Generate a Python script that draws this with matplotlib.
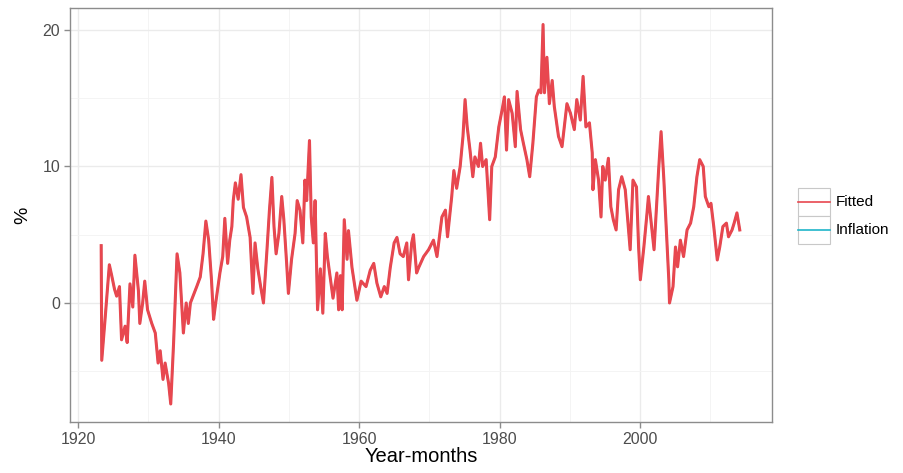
import matplotlib
matplotlib.use("Agg")
import matplotlib.pyplot as plt
from matplotlib.lines import Line2D
from matplotlib.patches import Rectangle

# decimal year of each reading
months = [
    1923.30, 1923.38, 1923.85, 1924.46, 1924.80, 1925.20, 1925.50, 1925.90, 1926.20, 1926.70,
    1927.00, 1927.40, 1927.80, 1928.10, 1928.60, 1928.80, 1929.20, 1929.50, 1929.90, 1930.50,
    1931.00, 1931.40, 1931.70, 1932.10, 1932.40, 1932.90, 1933.20, 1933.60, 1934.10, 1934.50,
    1935.00, 1935.40, 1935.70, 1936.00, 1936.90, 1937.40, 1937.80, 1938.20, 1938.60, 1939.00,
    1939.30, 1939.60, 1940.20, 1940.60, 1940.90, 1941.30, 1941.60, 1941.90, 1942.10, 1942.40,
    1942.80, 1943.20, 1943.55, 1944.00, 1944.50, 1944.90, 1945.20, 1945.60, 1946.00, 1946.40,
    1946.90, 1947.25, 1947.60, 1947.90, 1948.20, 1948.60, 1949.00, 1949.30, 1949.70, 1949.95,
    1950.40, 1950.90, 1951.20, 1951.60, 1952.00, 1952.30, 1952.55, 1952.95, 1953.20, 1953.50,
    1953.75, 1954.10, 1954.50, 1954.85, 1955.20, 1955.50, 1955.90, 1956.30, 1956.85, 1957.10,
    1957.35, 1957.60, 1957.90, 1958.30, 1958.50, 1959.00, 1959.70, 1960.30, 1961.00, 1961.60,
    1962.10, 1962.55, 1963.10, 1963.60, 1964.00, 1964.45, 1965.00, 1965.40, 1965.85, 1966.30,
    1966.80, 1967.05, 1967.50, 1967.75, 1968.20, 1968.50, 1969.20, 1969.90, 1970.60, 1971.10,
    1971.80, 1972.30, 1972.60, 1973.20, 1973.50, 1973.90, 1974.40, 1974.80, 1975.10, 1975.40,
    1975.80, 1976.20, 1976.50, 1977.00, 1977.30, 1977.60, 1978.10, 1978.60, 1978.90, 1979.40,
    1979.90, 1980.35, 1980.70, 1981.00, 1981.30, 1981.80, 1982.25, 1982.50, 1983.00, 1983.40,
    1983.90, 1984.30, 1984.75, 1985.25, 1985.60, 1985.90, 1986.20, 1986.40, 1986.75, 1987.10,
    1987.50, 1987.80, 1988.40, 1988.90, 1989.60, 1990.10, 1990.65, 1991.00, 1991.50, 1991.90,
    1992.30, 1992.80, 1993.20, 1993.30, 1993.65, 1994.10, 1994.45, 1994.70, 1995.05, 1995.50,
    1995.85, 1996.20, 1996.60, 1996.95, 1997.40, 1997.90, 1998.40, 1998.60, 1999.00, 1999.50,
    1999.80, 2000.05, 2000.55, 2001.00, 2001.20, 2001.55, 2002.00, 2002.30, 2002.65, 2003.00,
    2003.40, 2003.75, 2004.10, 2004.20, 2004.70, 2005.05, 2005.35, 2005.75, 2006.20, 2006.70,
    2007.20, 2007.65, 2008.10, 2008.50, 2009.00, 2009.30, 2009.80, 2010.10, 2010.50, 2011.00,
    2011.35, 2011.80, 2012.30, 2012.60, 2013.10, 2013.40, 2013.80, 2014.20,
]

inflation = [
    4.2, -4.2, -1.2, 2.8, 2.0, 1.0, 0.5, 1.2, -2.7, -1.7,
    -2.9, 1.4, -0.3, 3.5, 0.9, -1.5, 0.0, 1.6, -0.5, -1.5,
    -2.2, -4.4, -3.5, -5.6, -4.4, -5.9, -7.4, -3.0, 3.6, 2.2,
    -2.2, 0.0, -1.5, 0.0, 1.2, 1.9, 3.6, 6.0, 4.6, 1.7,
    -1.2, 0.0, 2.2, 3.4, 6.2, 2.9, 4.6, 5.6, 7.5, 8.8,
    7.6, 9.4, 7.0, 6.3, 4.8, 0.7, 4.4, 2.5, 1.2, 0.0,
    3.9, 6.8, 9.2, 5.6, 3.6, 5.1, 7.8, 6.1, 2.9, 0.7,
    3.2, 5.1, 7.5, 6.8, 4.4, 9.0, 7.5, 11.9, 6.3, 4.4,
    7.5, -0.5, 2.5, -0.75, 5.1, 3.4, 1.9, 0.35, 2.2, -0.5,
    2.0, -0.5, 6.1, 3.2, 5.3, 2.6, 0.2, 1.6, 1.2, 2.4,
    2.9, 1.45, 0.45, 1.2, 0.7, 2.6, 4.4, 4.8, 3.6, 3.4,
    4.4, 1.7, 4.4, 5.0, 2.2, 2.6, 3.4, 3.9, 4.6, 3.4,
    6.3, 6.8, 4.85, 7.8, 9.7, 8.4, 10.0, 12.2, 14.9, 12.9,
    11.2, 9.25, 10.7, 10.0, 11.7, 10.0, 10.5, 6.1, 10.0, 10.7,
    12.9, 14.1, 15.1, 11.2, 14.9, 13.9, 11.45, 15.5, 12.7, 11.7,
    10.5, 9.25, 11.7, 15.1, 15.6, 15.4, 20.4, 15.4, 18.0, 14.6,
    16.3, 14.4, 12.2, 11.45, 14.6, 13.9, 12.7, 14.9, 13.4, 16.6,
    12.9, 13.2, 11.0, 8.3, 10.5, 9.0, 6.3, 10.0, 9.0, 10.6,
    7.05, 6.1, 5.35, 8.3, 9.25, 8.3, 5.1, 3.9, 9.0, 8.5,
    4.1, 1.7, 4.1, 6.6, 7.8, 6.1, 3.9, 6.6, 9.75, 12.55,
    9.0, 5.35, 1.7, 0.0, 1.2, 4.1, 2.65, 4.6, 3.4, 5.35,
    5.85, 7.05, 9.25, 10.5, 10.0, 7.8, 7.05, 7.3, 5.6, 3.15,
    4.1, 5.6, 5.85, 4.85, 5.35, 5.85, 6.6, 5.35,
]

# the fitted curve sits right on top of the data in the picture
fitted = list(inflation)

series_names = ["Fitted", "Inflation"]
series_colours = ["#E8474F", "#1FB5C9"]

x_ticks = [1920, 1940, 1960, 1980, 2000]
y_ticks = [0, 10, 20]

plt.rcParams["font.family"] = ["Liberation Sans", "DejaVu Sans"]

W, H = 904, 473
fig = plt.figure(figsize=(W / 100, H / 100), dpi=100)
fig.patch.set_facecolor("white")

# panel in pixels: left 70, right 772, top 8, bottom 422
ax = fig.add_axes([70 / W, 1 - 422 / H, (772 - 70) / W, (422 - 8) / H])

ax.plot(months, inflation, color=series_colours[1], lw=1.4, zorder=3)
ax.plot(months, fitted, color=series_colours[0], lw=2.2, zorder=4)

ax.set_xlim(1918.86, 2018.79)
ax.set_ylim(-8.72, 21.61)

ax.set_xticks(x_ticks)
ax.set_yticks(y_ticks)
ax.set_xticks([1930, 1950, 1970, 1990, 2010], minor=True)
ax.set_yticks([-5, 5, 15], minor=True)

ax.grid(True, which="major", color="#EBEBEB", lw=1.0, zorder=0)
ax.grid(True, which="minor", color="#F3F3F3", lw=0.6, zorder=0)
ax.set_axisbelow(True)

for s in ax.spines.values():
    s.set_color("#8C8C8C")
    s.set_linewidth(1.0)

ax.tick_params(which="major", length=4, width=1, color="#8C8C8C",
               labelcolor="#4D4D4D", labelsize=11.5, pad=3)
ax.tick_params(which="minor", length=0)

ax.set_xlabel("Year-months", fontsize=14.5, labelpad=0)
ax.set_ylabel("%", fontsize=14, labelpad=8)

# legend drawn by hand to get ggplot-style boxed keys
key_left, key_right = 798, 830
key_tops = [188, 216]
key_h = 28
for name, col, top in zip(series_names, series_colours, key_tops):
    fig.add_artist(Rectangle((key_left / W, 1 - (top + key_h) / H),
                             (key_right - key_left) / W, key_h / H,
                             transform=fig.transFigure, facecolor="white",
                             edgecolor="#C8C8C8", lw=0.8))
    yc = 1 - (top + key_h / 2) / H
    fig.add_artist(Line2D([key_left / W, key_right / W], [yc, yc],
                          transform=fig.transFigure, color=col, lw=1.2))
    fig.text(836 / W, yc, name, fontsize=11, va="center", ha="left", color="black")

fig.savefig("out.png", dpi=100)
